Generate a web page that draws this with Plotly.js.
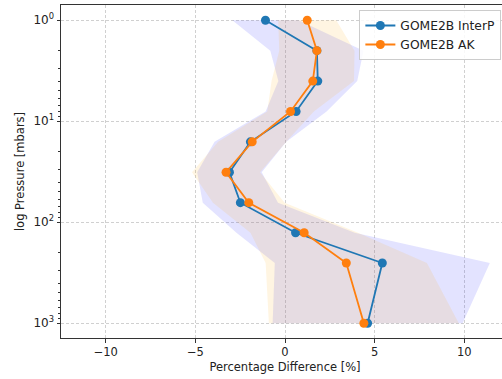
<!DOCTYPE html>
<html>
<head>
<meta charset="utf-8">
<script src="https://cdn.plot.ly/plotly-3.0.1.min.js"></script>
<style>html,body{margin:0;padding:0;overflow:hidden;background:#fff}</style>
</head>
<body>
<div id="chart"></div>
<script>
// Pressure levels [mbar]
const pressure = [1, 2, 4, 8, 16, 32, 64, 127, 253, 1000];
// GOME2B InterP: mean percentage difference and spread
const interpMean = [-1.09, 1.78, 1.83, 0.62, -1.93, -3.10, -2.49, 0.59, 5.43, 4.61];
const interpStd  = [1.85, 2.6, 2.2, 1.7, 2.0, 1.8, 2.1, 3.3, 6.0, 5.3];
// GOME2B AK
const akMean = [1.24, 1.78, 1.55, 0.31, -1.83, -3.29, -2.02, 1.07, 3.42, 4.40];
const akStd  = [1.62, 2.1, 2.3, 1.3, 1.9, 1.9, 2.0, 3.0, 4.5, 5.3];

const xTicks = [-10, -5, 0, 5, 10];
const xTickText = ['\u221210', '\u22125', '0', '5', '10'];
const yTicks = [1, 10, 100, 1000];
const yTickText = ['10<sup>0</sup>', '10<sup>1</sup>', '10<sup>2</sup>', '10<sup>3</sup>'];

function band(mean, std, color) {
  const lo = mean.map((m, i) => m - std[i]);
  const hi = mean.map((m, i) => m + std[i]);
  return {
    x: lo.concat(hi.slice().reverse()),
    y: pressure.concat(pressure.slice().reverse()),
    type: 'scatter', mode: 'lines', fill: 'toself',
    fillcolor: color, line: {width: 0}, hoverinfo: 'skip', showlegend: false
  };
}

const minorVals = [];
[1, 10, 100].forEach(d => { for (let k = 2; k <= 9; k++) minorVals.push(d * k); });

const traces = [
  band(interpMean, interpStd, 'rgba(40,40,255,0.13)'),
  band(akMean, akStd, 'rgba(255,170,20,0.12)'),
  {x: interpMean, y: pressure, name: 'GOME2B InterP', type: 'scatter', mode: 'lines+markers',
   line: {color: '#1f77b4', width: 1.8}, marker: {color: '#1f77b4', size: 9}},
  {x: akMean, y: pressure, name: 'GOME2B AK', type: 'scatter', mode: 'lines+markers',
   line: {color: '#ff7f0e', width: 1.8}, marker: {color: '#ff7f0e', size: 9}}
];

const layout = {
  width: 512, height: 379,
  margin: {l: 61, r: 3, t: 5, b: 41},
  paper_bgcolor: '#fff', plot_bgcolor: '#fff',
  font: {family: 'DejaVu Sans', size: 11, color: '#222'},
  showlegend: true,
  legend: {x: 0.666, y: 0.985, xanchor: 'left', yanchor: 'top',
           bgcolor: 'rgba(255,255,255,0.85)', bordercolor: '#cccccc', borderwidth: 1,
           font: {family: 'DejaVu Sans', size: 12.3, color: '#222'}, tracegroupgap: 0},
  xaxis: {
    range: [-12.5, 12.5], tickvals: xTicks, ticktext: xTickText,
    showgrid: true, gridcolor: '#c4c4c4', griddash: '3px,2px', gridwidth: 0.8,
    zeroline: false, showline: true, linecolor: '#333', linewidth: 1, mirror: true,
    ticks: 'outside', ticklen: 3.5, tickcolor: '#333',
    tickfont: {family: 'DejaVu Sans', size: 11.5, color: '#222'},
    title: {text: 'Percentage Difference [%]', font: {family: 'DejaVu Sans', size: 11.5, color: '#222'}, standoff: 4}
  },
  yaxis: {
    type: 'log', range: [3.146, -0.151], tickvals: yTicks, ticktext: yTickText,
    showgrid: true, gridcolor: '#c4c4c4', griddash: '3px,2px', gridwidth: 0.8,
    zeroline: false, showline: true, linecolor: '#333', linewidth: 1, mirror: true,
    ticks: 'outside', ticklen: 3.5, tickcolor: '#333',
    minor: {tickvals: minorVals, ticks: 'outside', ticklen: 2, tickcolor: '#333', showgrid: false},
    tickfont: {family: 'DejaVu Sans', size: 12, color: '#222'},
    title: {text: 'log Pressure [mbars]', font: {family: 'DejaVu Sans', size: 11.5, color: '#222'}, standoff: 6}
  }
};

Plotly.newPlot('chart', traces, layout, {displayModeBar: false, staticPlot: true});
</script>
</body>
</html>
